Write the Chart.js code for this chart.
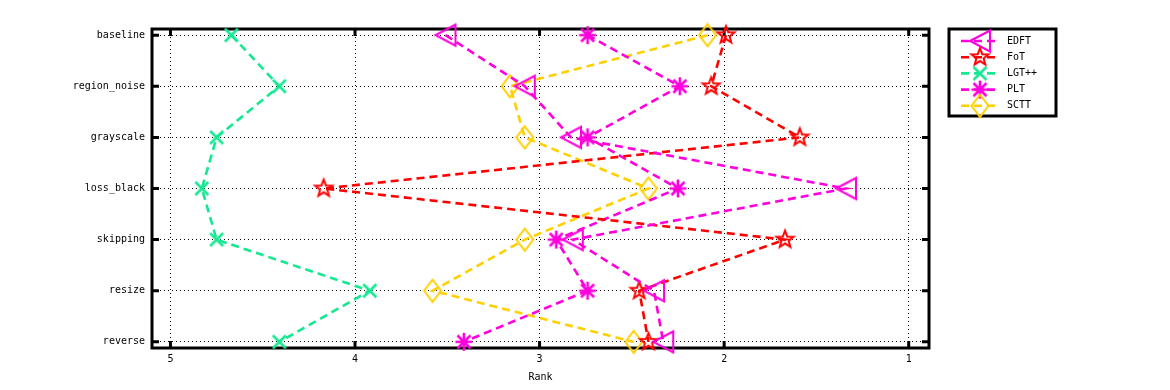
<!DOCTYPE html>
<html lang="en">
<head>
<meta charset="UTF-8">
<title>Rank per condition</title>
<script src="https://cdn.jsdelivr.net/npm/chart.js"></script>
<style>
  html, body { margin: 0; padding: 0; background: #fff; overflow: hidden; }
  .chart-container { position: relative; width: 1170px; height: 390px; }
</style>
</head>
<body>
<div class="chart-container"><canvas id="rankChart" width="1170" height="390"></canvas></div>
<script>
// categories (top to bottom) and x tick labels
const conditions = ['baseline', 'region_noise', 'grayscale', 'loss_black', 'skipping', 'resize', 'reverse'];
const rankTicks = [5, 4, 3, 2, 1];

// mean rank per method, same order as conditions
const edft = [3.51, 3.08, 2.83, 1.34, 2.82, 2.38, 2.33];
const fot  = [1.99, 2.07, 1.59, 4.17, 1.67, 2.46, 2.41];
const lgt  = [4.67, 4.41, 4.75, 4.83, 4.75, 3.92, 4.41];
const plt  = [2.74, 2.24, 2.74, 2.25, 2.91, 2.74, 3.41];
const sctt = [2.09, 3.16, 3.08, 2.41, 3.08, 3.58, 2.49];

const FONT = 'DejaVu Sans Mono';

// hollow markers drawn on small canvases so the legend can reuse them
function makeMarker(kind, color) {
    const c = document.createElement('canvas');
    c.width = 26; c.height = 26;
    const g = c.getContext('2d');
    g.strokeStyle = color;
    g.lineWidth = 2;
    g.translate(13, 13);
    g.beginPath();
    if (kind === 'tri') {
        g.moveTo(-10, 0); g.lineTo(10, -10.5); g.lineTo(10, 10.5); g.closePath();
    } else if (kind === 'star') {
        for (let i = 0; i < 10; i++) {
            const r = i % 2 ? 3.8 : 9;
            const a = -Math.PI / 2 + i * Math.PI / 5;
            if (i === 0) g.moveTo(r * Math.cos(a), r * Math.sin(a));
            else g.lineTo(r * Math.cos(a), r * Math.sin(a));
        }
        g.closePath();
    } else if (kind === 'x') {
        g.lineWidth = 2.6;
        g.moveTo(-6.5, -6.5); g.lineTo(6.5, 6.5);
        g.moveTo(-6.5, 6.5); g.lineTo(6.5, -6.5);
    } else if (kind === 'ast') {
        g.lineWidth = 2.6;
        g.moveTo(-8.5, 0); g.lineTo(8.5, 0);
        g.moveTo(0, -9); g.lineTo(0, 9);
        g.moveTo(-6.5, -6.5); g.lineTo(6.5, 6.5);
        g.moveTo(-6.5, 6.5); g.lineTo(6.5, -6.5);
    } else if (kind === 'diamond') {
        g.moveTo(0, -11); g.lineTo(8.5, 0); g.lineTo(0, 11); g.lineTo(-8.5, 0); g.closePath();
    }
    g.stroke();
    return c;
}

const series = [
    { label: 'EDFT',  values: edft, color: '#ff00dd', marker: 'tri' },
    { label: 'FoT',   values: fot,  color: '#ff0000', marker: 'star' },
    { label: 'LGT++', values: lgt,  color: '#14e890', marker: 'x' },
    { label: 'PLT',   values: plt,  color: '#ff00dd', marker: 'ast' },
    { label: 'SCTT',  values: sctt, color: '#ffd000', marker: 'diamond' }
];

const datasets = series.map(s => ({
    label: s.label,
    data: s.values.map((v, i) => ({ x: v, y: i + 1 })),
    borderColor: s.color,
    borderWidth: 2.6,
    borderDash: [8, 5],
    pointStyle: makeMarker(s.marker, s.color),
    pointRadius: 8,
    pointHoverRadius: 8,
    fill: false,
    tension: 0,
    clip: false
}));

// thick frame with inward tick marks
const framePlugin = {
    id: 'frame',
    beforeDatasetsDraw(chart) {
        const { ctx, chartArea: a, scales: { x, y } } = chart;
        ctx.save();
        ctx.strokeStyle = '#000';
        ctx.lineWidth = 3;
        ctx.strokeRect(a.left, a.top, a.right - a.left, a.bottom - a.top);
        ctx.beginPath();
        rankTicks.forEach(v => {
            const px = x.getPixelForValue(v);
            ctx.moveTo(px, a.bottom); ctx.lineTo(px, a.bottom - 7);
            ctx.moveTo(px, a.top); ctx.lineTo(px, a.top + 7);
        });
        conditions.forEach((c, i) => {
            const py = y.getPixelForValue(i + 1);
            ctx.moveTo(a.left, py); ctx.lineTo(a.left + 7, py);
            ctx.moveTo(a.right, py); ctx.lineTo(a.right - 7, py);
        });
        ctx.stroke();
        ctx.restore();
    }
};

// boxed legend: line segment + marker + name
const legendPlugin = {
    id: 'boxLegend',
    afterDraw(chart) {
        const ctx = chart.ctx;
        const left = 949, top = 29, w = 107, h = 87;
        ctx.save();
        ctx.strokeStyle = '#000';
        ctx.lineWidth = 3;
        ctx.strokeRect(left, top, w, h);
        ctx.font = '10px "' + FONT + '"';
        ctx.textBaseline = 'middle';
        ctx.fillStyle = '#000';
        chart.data.datasets.forEach((ds, i) => {
            const cy = 41 + i * 16.2;
            ctx.strokeStyle = ds.borderColor;
            ctx.lineWidth = 2.6;
            ctx.setLineDash([8, 5]);
            ctx.beginPath();
            ctx.moveTo(961, cy); ctx.lineTo(999, cy);
            ctx.stroke();
            ctx.setLineDash([]);
            const m = ds.pointStyle;
            ctx.drawImage(m, 980 - m.width / 2, cy - m.height / 2);
            ctx.fillText(ds.label, 1007, cy);
        });
        ctx.restore();
    }
};

const ctx = document.getElementById('rankChart').getContext('2d');
const rankChart = new Chart(ctx, {
    type: 'line',
    data: { datasets: datasets },
    options: {
        responsive: false,
        animation: false,
        events: [],
        layout: { padding: { top: 29, right: 241, left: 0, bottom: 0 } },
        plugins: {
            legend: { display: false },
            tooltip: { enabled: false }
        },
        scales: {
            x: {
                type: 'linear',
                reverse: true,
                min: 0.89,
                max: 5.1,
                afterBuildTicks: s => { s.ticks = rankTicks.map(v => ({ value: v })); },
                afterFit: s => { s.height = 42; },
                grid: { color: '#000', lineWidth: 1, drawTicks: false },
                border: { display: false, dash: [1, 3] },
                ticks: { color: '#000', padding: 5, font: { family: FONT, size: 10 }, maxRotation: 0 },
                title: { display: true, text: 'Rank', color: '#000', padding: { top: 4, bottom: 7 }, font: { family: FONT, size: 10 } }
            },
            y: {
                type: 'linear',
                reverse: true,
                min: 0.88,
                max: 7.12,
                afterBuildTicks: s => { s.ticks = conditions.map((c, i) => ({ value: i + 1 })); },
                afterFit: s => { s.width = 152; },
                grid: { color: '#000', lineWidth: 1, drawTicks: false },
                border: { display: false, dash: [1, 3] },
                ticks: {
                    color: '#000',
                    padding: 7,
                    autoSkip: false,
                    font: { family: FONT, size: 10 },
                    callback: v => conditions[v - 1]
                }
            }
        }
    },
    plugins: [framePlugin, legendPlugin]
});
</script>
</body>
</html>
